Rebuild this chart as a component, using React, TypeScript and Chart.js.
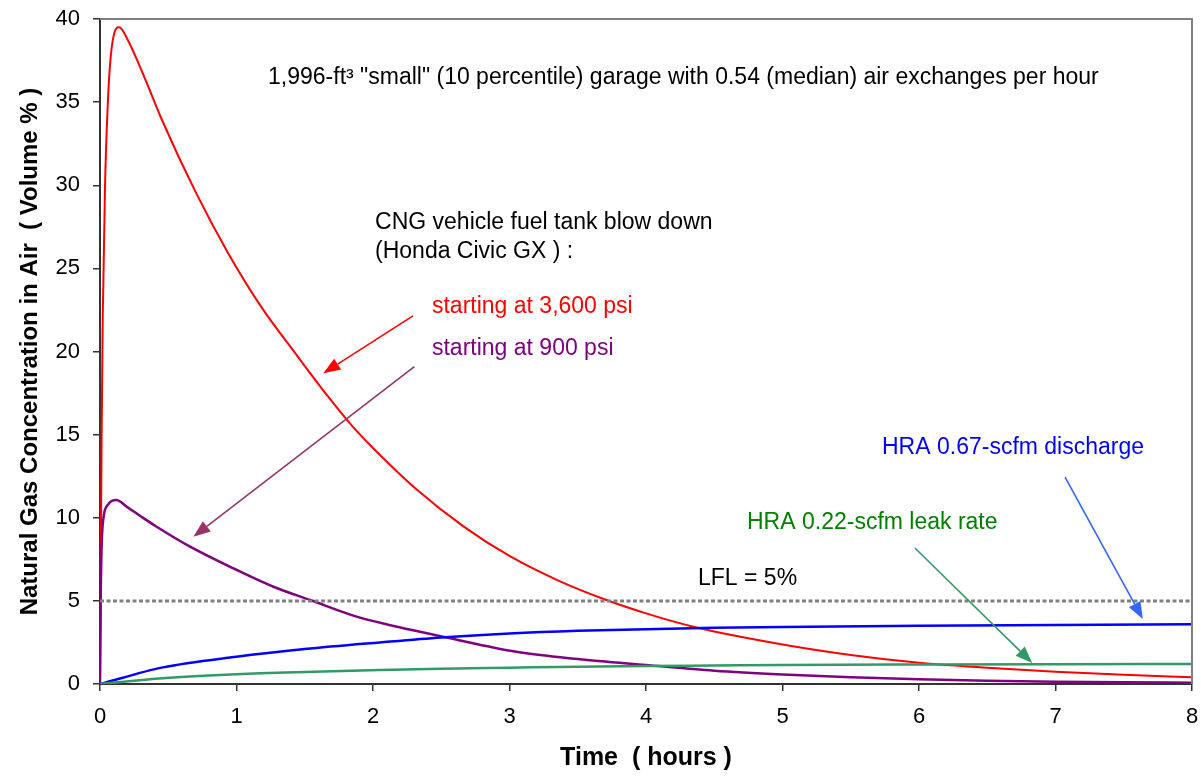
import React, { useEffect, useRef } from "react";
import { Chart, registerables } from "chart.js";

Chart.register(...registerables);

// ---------- data (hours, volume %) ----------
const redT = [0, 0.005, 0.012, 0.02, 0.037, 0.055, 0.073, 0.1, 0.14, 0.2, 0.33, 0.45, 0.7, 0.94, 1.18, 1.43, 1.67, 1.85, 2.0, 2.32, 2.66, 3.0, 3.35, 3.71, 4.0, 4.37, 5.0, 5.5, 6.0, 6.5, 7.0, 7.5, 8.0];
const redV = [0, 6, 15, 22, 30, 34.5, 37.2, 39, 39.5, 38.8, 36.4, 34.0, 29.6, 25.9, 22.7, 19.9, 17.3, 15.5, 14.2, 11.7, 9.5, 7.7, 6.25, 5.05, 4.25, 3.4, 2.38, 1.75, 1.28, 0.98, 0.74, 0.55, 0.4];

const purpleT = [0, 0.005, 0.012, 0.024, 0.06, 0.12, 0.2, 0.3, 0.415, 0.66, 0.95, 1.27, 1.54, 1.88, 2.12, 2.54, 3.05, 3.5, 4.0, 4.5, 5.0, 5.5, 6.0, 6.5, 7.0, 7.5, 8.0];
const purpleV = [0, 5, 8.3, 9.9, 10.8, 11.07, 10.64, 10.08, 9.46, 8.26, 7.06, 5.85, 5.05, 4.05, 3.55, 2.8, 1.94, 1.5, 1.14, 0.8, 0.57, 0.4, 0.28, 0.2, 0.14, 0.1, 0.08];

const blueT = [0, 0.46, 1.0, 1.5, 2.05, 2.5, 3.0, 3.5, 4.0, 4.5, 5.0, 6.0, 7.0, 8.0];
const blueV = [0, 1.0, 1.64, 2.1, 2.5, 2.8, 3.04, 3.2, 3.3, 3.38, 3.43, 3.5, 3.55, 3.59];

const greenT = [0, 0.46, 1.0, 1.5, 2.05, 2.5, 3.0, 3.5, 4.0, 4.5, 5.0, 6.0, 7.0, 8.0];
const greenV = [0, 0.34, 0.58, 0.72, 0.84, 0.92, 0.98, 1.04, 1.08, 1.11, 1.14, 1.17, 1.19, 1.2];

const lflT = [0, 8];
const lflV = [5, 5];

const xTickValues = [0, 1, 2, 3, 4, 5, 6, 7, 8];
const yTickValues = [0, 5, 10, 15, 20, 25, 30, 35, 40];

const xTitle = "Time  ( hours )";
const yTitle = "Natural Gas Concentration in Air  ( Volume % )";

// annotation texts, anchored in data units (left / middle)
const noteTexts = [
  "1,996-ft³ \"small\" (10 percentile) garage with 0.54 (median) air exchanges per hour",
  "CNG vehicle fuel tank blow down",
  "(Honda Civic GX ) :",
  "starting at 3,600 psi",
  "starting at 900 psi",
  "HRA 0.67-scfm discharge",
  "HRA 0.22-scfm leak rate",
  "LFL = 5%",
];
const noteX = [1.231, 2.015, 2.015, 2.432, 2.432, 5.729, 4.74, 4.381];
const noteY = [36.5, 27.73, 26.0, 22.7, 20.19, 14.2, 9.68, 6.32];
const noteColors = ["#000000", "#000000", "#000000", "#ff0000", "#800080", "#0000ff", "#008000", "#000000"];

// arrows (start -> tip), data units
const arrowX1 = [2.293, 2.303, 7.07, 5.97];
const arrowY1 = [22.14, 19.09, 12.45, 8.18];
const arrowX2 = [1.636, 0.684, 7.64, 6.83];
const arrowY2 = [18.69, 8.86, 3.91, 1.26];
const arrowColors = ["#ff0000", "#993366", "#3366ff", "#339966"];

const FONT = "'Liberation Sans', Arial, Helvetica, sans-serif";

function pts(ts: number[], vs: number[]) {
  return ts.map((t, i) => ({ x: t, y: vs[i] }));
}

const overlayPlugin = {
  id: "overlay",
  afterDatasetsDraw(chart: any) {
    const { ctx, chartArea, scales } = chart;
    const xs = scales.x;
    const ys = scales.y;
    ctx.save();
    // frame (top & right)
    ctx.strokeStyle = "#808080";
    ctx.lineWidth = 2;
    ctx.beginPath();
    ctx.moveTo(chartArea.left, chartArea.top);
    ctx.lineTo(chartArea.right, chartArea.top);
    ctx.lineTo(chartArea.right, chartArea.bottom);
    ctx.stroke();

    // texts
    ctx.font = `23px ${FONT}`;
    ctx.textAlign = "left";
    ctx.textBaseline = "middle";
    noteTexts.forEach((t, i) => {
      ctx.fillStyle = noteColors[i];
      ctx.fillText(t, xs.getPixelForValue(noteX[i]), ys.getPixelForValue(noteY[i]));
    });

    // arrows
    arrowColors.forEach((c, i) => {
      const x1 = xs.getPixelForValue(arrowX1[i]);
      const y1 = ys.getPixelForValue(arrowY1[i]);
      const x2 = xs.getPixelForValue(arrowX2[i]);
      const y2 = ys.getPixelForValue(arrowY2[i]);
      const ang = Math.atan2(y2 - y1, x2 - x1);
      const hl = 17;
      const hw = 6.5;
      const bx = x2 - hl * Math.cos(ang);
      const by = y2 - hl * Math.sin(ang);
      ctx.strokeStyle = c;
      ctx.fillStyle = c;
      ctx.lineWidth = 1.6;
      ctx.beginPath();
      ctx.moveTo(x1, y1);
      ctx.lineTo(bx, by);
      ctx.stroke();
      ctx.beginPath();
      ctx.moveTo(x2, y2);
      ctx.lineTo(bx + hw * Math.sin(ang), by - hw * Math.cos(ang));
      ctx.lineTo(bx - hw * Math.sin(ang), by + hw * Math.cos(ang));
      ctx.closePath();
      ctx.fill();
    });
    ctx.restore();
  },
};

export default function App() {
  const ref = useRef<HTMLCanvasElement | null>(null);

  useEffect(() => {
    document.body.style.margin = "0";
    const canvas = ref.current;
    if (!canvas) return;
    const lineDs = (label: string, ts: number[], vs: number[], color: string, width: number) => ({
      label,
      data: pts(ts, vs),
      borderColor: color,
      backgroundColor: color,
      borderWidth: width,
      pointRadius: 0,
      fill: false,
      cubicInterpolationMode: "monotone" as const,
    });
    const chart = new Chart(canvas, {
      type: "line",
      data: {
        datasets: [
          {
            label: "LFL",
            data: pts(lflT, lflV),
            borderColor: "#808080",
            borderWidth: 3,
            borderDash: [4, 2.5],
            pointRadius: 0,
            fill: false,
          },
          lineDs("HRA 0.22-scfm", greenT, greenV, "#339966", 2.5),
          lineDs("HRA 0.67-scfm", blueT, blueV, "#0000ff", 2.5),
          lineDs("900 psi", purpleT, purpleV, "#800080", 2.5),
          lineDs("3,600 psi", redT, redV, "#ff0000", 2),
        ],
      },
      options: {
        responsive: false,
        animation: false,
        parsing: true,
        layout: { padding: { top: 19, right: 9, left: 0, bottom: 0 } },
        plugins: { legend: { display: false }, tooltip: { enabled: false } },
        scales: {
          x: {
            type: "linear",
            min: 0,
            max: 8,
            afterFit: (s: any) => {
              s.height = 93;
              s.paddingLeft = 0;
              s.paddingRight = 0;
            },
            afterBuildTicks: (s: any) => {
              s.ticks = xTickValues.map((v) => ({ value: v }));
            },
            ticks: {
              color: "#000",
              font: { family: FONT, size: 22 },
              padding: 13,
              maxRotation: 0,
            },
            grid: { drawOnChartArea: false, drawTicks: true, tickLength: 7, color: "#333", lineWidth: 1.5 },
            border: { display: true, color: "#333", width: 2 },
            title: {
              display: true,
              text: xTitle,
              color: "#000",
              font: { family: FONT, size: 25, weight: "bold" },
              padding: { top: 0, bottom: 4 },
            },
          },
          y: {
            type: "linear",
            min: 0,
            max: 40,
            afterFit: (s: any) => {
              s.width = 100;
              s.paddingTop = 0;
              s.paddingBottom = 0;
            },
            afterBuildTicks: (s: any) => {
              s.ticks = yTickValues.map((v) => ({ value: v }));
            },
            ticks: {
              color: "#000",
              font: { family: FONT, size: 22 },
              padding: 13,
            },
            grid: { drawOnChartArea: false, drawTicks: true, tickLength: 7, color: "#333", lineWidth: 1.5 },
            border: { display: true, color: "#333", width: 2 },
            title: {
              display: true,
              text: yTitle,
              color: "#000",
              font: { family: FONT, size: 24, weight: "bold" },
              padding: { top: 16, bottom: 0 },
            },
          },
        },
      },
      plugins: [overlayPlugin],
    } as any);
    return () => chart.destroy();
  }, []);

  return (
    <div style={{ width: 1201, height: 777, position: "relative" }}>
      <canvas ref={ref} width={1201} height={777} style={{ width: 1201, height: 777, display: "block" }} />
    </div>
  );
}
